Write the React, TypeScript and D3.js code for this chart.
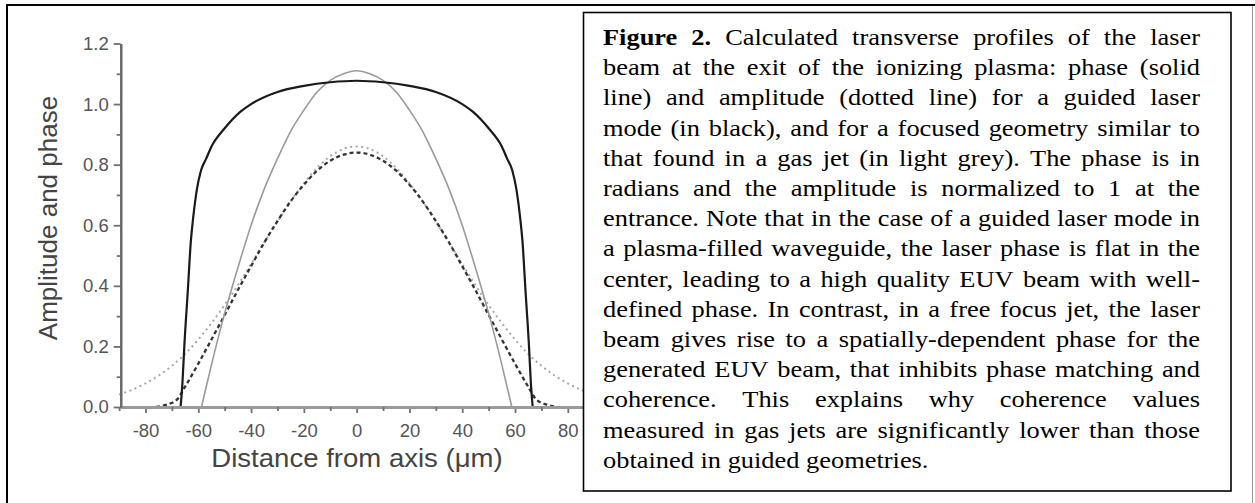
import * as React from "react";
import * as d3 from "d3";

// tick values
const xTicks = [-80, -60, -40, -20, 0, 20, 40, 60, 80];
const xMinor = [-90, -70, -50, -30, -10, 10, 30, 50, 70, 90];
const yTicks = [0, 0.2, 0.4, 0.6, 0.8, 1.0, 1.2];
const yMinor = [0.1, 0.3, 0.5, 0.7, 0.9, 1.1];

// guided laser mode, phase (black solid)
const guidedPhaseX = [-66.7, -66, -65.3, -64, -62.8, -62, -60.5, -59, -57, -55, -50, -44, -40, -30, -20, -10, 0, 10, 20, 30, 40, 44, 50, 55, 57, 59, 60.5, 62, 62.8, 64, 65.3, 66, 66.7];
const guidedPhaseY = [0, 0.08, 0.2, 0.38, 0.55, 0.62, 0.72, 0.78, 0.82, 0.86, 0.92, 0.975, 1.0, 1.04, 1.06, 1.072, 1.077, 1.072, 1.06, 1.04, 1.0, 0.975, 0.92, 0.86, 0.82, 0.78, 0.72, 0.62, 0.55, 0.38, 0.2, 0.08, 0];

// gas jet, phase (light grey solid)
const jetPhaseX = [-58.8, -55, -50, -45, -40, -35, -30, -25, -20, -15, -10, -5, 0, 5, 10, 15, 20, 25, 30, 35, 40, 45, 50, 55, 58.8];
const jetPhaseY = [0, 0.14, 0.31, 0.46, 0.6, 0.72, 0.82, 0.91, 0.98, 1.04, 1.078, 1.1, 1.11, 1.1, 1.078, 1.04, 0.98, 0.91, 0.82, 0.72, 0.6, 0.46, 0.31, 0.14, 0];

// guided laser mode, amplitude (dark dashed)
const guidedAmpX = [-76, -72, -68, -65, -60, -55, -50, -45, -40, -35, -30, -25, -20, -15, -10, -5, 0, 5, 10, 15, 20, 25, 30, 35, 40, 45, 50, 55, 60, 65, 68, 72, 76];
const guidedAmpY = [0, 0.008, 0.025, 0.067, 0.143, 0.223, 0.304, 0.386, 0.465, 0.543, 0.614, 0.679, 0.734, 0.78, 0.813, 0.833, 0.84, 0.833, 0.813, 0.78, 0.734, 0.679, 0.614, 0.543, 0.465, 0.386, 0.304, 0.223, 0.143, 0.067, 0.025, 0.008, 0];

// gas jet, amplitude (light grey dotted)
const jetAmpX = [-90, -85, -80, -75, -70, -65, -60, -55, -50, -45, -40, -35, -30, -25, -20, -15, -10, -5, 0, 5, 10, 15, 20, 25, 30, 35, 40, 45, 50, 55, 60, 65, 70, 75, 80, 85, 90];
const jetAmpY = [0.041, 0.057, 0.078, 0.104, 0.136, 0.175, 0.223, 0.277, 0.337, 0.402, 0.472, 0.543, 0.612, 0.679, 0.738, 0.789, 0.828, 0.852, 0.86, 0.852, 0.828, 0.789, 0.738, 0.679, 0.612, 0.543, 0.472, 0.402, 0.337, 0.277, 0.223, 0.175, 0.136, 0.104, 0.078, 0.057, 0.041];

const captionLines = [
  "Figure 2. Calculated transverse profiles of the laser",
  "beam at the exit of the ionizing plasma: phase (solid",
  "line) and amplitude (dotted line) for a guided laser",
  "mode (in black), and for a focused geometry similar to",
  "that found in a gas jet (in light grey). The phase is in",
  "radians and the amplitude is normalized to 1 at the",
  "entrance. Note that in the case of a guided laser mode in",
  "a plasma-filled waveguide, the laser phase is flat in the",
  "center, leading to a high quality EUV beam with well-",
  "defined phase. In contrast, in a free focus jet, the laser",
  "beam gives rise to a spatially-dependent phase for the",
  "generated EUV beam, that inhibits phase matching and",
  "coherence. This explains why coherence values",
  "measured in gas jets are significantly lower than those",
  "obtained in guided geometries.",
];

export default function App() {
  const ref = React.useRef<SVGSVGElement>(null);

  const draw = () => {
    const svg = d3.select(ref.current);
    svg.selectAll("*").remove();

    const sans = "Liberation Sans";
    const serif = "Liberation Serif";
    const labelColor = "#555";

    svg.append("rect").attr("width", 1255).attr("height", 503).attr("fill", "#fff");

    // outer frame
    svg.append("line").attr("x1", 6).attr("x2", 1255).attr("y1", 5).attr("y2", 5)
      .attr("stroke", "#000").attr("stroke-width", 2);
    svg.append("line").attr("x1", 7).attr("x2", 7).attr("y1", 4).attr("y2", 503)
      .attr("stroke", "#000").attr("stroke-width", 2);
    svg.append("line").attr("x1", 1252.5).attr("x2", 1252.5).attr("y1", 6).attr("y2", 503)
      .attr("stroke", "#999").attr("stroke-width", 1);

    const x = d3.scaleLinear().domain([-89.4, 90]).range([120.7, 594.2]);
    const y = d3.scaleLinear().domain([0, 1.2]).range([407, 43.5]);

    const plot = svg.append("g");

    const line = (xs: number[]) =>
      d3.line<number>()
        .x((_, i) => x(xs[i]))
        .y((d) => y(d))
        .curve(d3.curveMonotoneX);

    plot.append("path").attr("d", line(jetAmpX)(jetAmpY))
      .attr("fill", "none").attr("stroke", "#a8a8a8").attr("stroke-width", 2)
      .attr("stroke-dasharray", "2,3.5");
    plot.append("path").attr("d", line(guidedAmpX)(guidedAmpY))
      .attr("fill", "none").attr("stroke", "#333").attr("stroke-width", 2.3)
      .attr("stroke-dasharray", "4,3");
    plot.append("path").attr("d", line(jetPhaseX)(jetPhaseY))
      .attr("fill", "none").attr("stroke", "#9a9a9a").attr("stroke-width", 1.6);
    plot.append("path").attr("d", line(guidedPhaseX)(guidedPhaseY))
      .attr("fill", "none").attr("stroke", "#1a1a1a").attr("stroke-width", 2.2);

    // axes
    const xAxis = plot.append("g").attr("transform", "translate(0," + y(0) + ")");
    xAxis.call(d3.axisBottom(x).tickValues(xTicks).tickSize(6).tickSizeOuter(0).tickPadding(11)
      .tickFormat((d) => String(d)));
    xAxis.append("g").call(d3.axisBottom(x).tickValues(xMinor).tickSize(4).tickSizeOuter(0)
      .tickFormat(() => ""));
    xAxis.selectAll(".domain").attr("stroke", "#9a9a9a").attr("stroke-width", 3);

    const yAxis = plot.append("g").attr("transform", "translate(" + x(-89.4) + ",0)");
    yAxis.call(d3.axisLeft(y).tickValues(yTicks).tickSize(7).tickSizeOuter(0).tickPadding(5)
      .tickFormat(d3.format(".1f")));
    yAxis.append("g").call(d3.axisLeft(y).tickValues(yMinor).tickSize(4).tickSizeOuter(0)
      .tickFormat(() => ""));
    yAxis.selectAll(".domain").attr("stroke", "#6a6a6a").attr("stroke-width", 2.2);

    plot.selectAll(".tick line").attr("stroke", "#707070").attr("stroke-width", 1.8);
    plot.selectAll(".tick text").attr("fill", labelColor)
      .attr("font-family", sans).attr("font-size", "18.5px");

    plot.append("text")
      .attr("transform", "translate(357,466.7) scale(1.06,1)")
      .attr("text-anchor", "middle")
      .attr("font-family", sans).attr("font-size", "26px").attr("fill", "#444")
      .text("Distance from axis (\u03bcm)");

    plot.append("text")
      .attr("transform", "translate(57,218) rotate(-90)")
      .attr("text-anchor", "middle")
      .attr("font-family", sans).attr("font-size", "26px").attr("fill", "#444")
      .text("Amplitude and phase");

    // caption box
    svg.append("rect").attr("x", 583.5).attr("y", 12.5).attr("width", 647.5).attr("height", 478.5)
      .attr("fill", "#fff").attr("stroke", "#000").attr("stroke-width", 1.6);

    const fontSize = 24;
    const sx = 1.1;
    const left = 603;
    const right = 1200;
    const ctx = document.createElement("canvas").getContext("2d")!;
    const measure = (w: string, bold: boolean) => {
      ctx.font = (bold ? "bold " : "") + fontSize + "px " + serif;
      return ctx.measureText(w).width * sx;
    };
    ctx.font = fontSize + "px " + serif;
    const spaceW = ctx.measureText(" ").width * sx;

    const caption = svg.append("g").attr("font-family", serif).attr("font-size", fontSize + "px")
      .attr("fill", "#000");

    captionLines.forEach((ln, li) => {
      const words = ln.split(" ");
      const bolds = words.map((_, wi) => li === 0 && wi < 2);
      const widths = words.map((w, wi) => measure(w, bolds[wi]));
      const total = d3.sum(widths);
      const last = li === captionLines.length - 1;
      const gap = last || words.length < 2 ? spaceW : (right - left - total) / (words.length - 1);
      const by = 45 + li * 30.2;
      let cx = left;
      words.forEach((w, wi) => {
        caption.append("text")
          .attr("transform", "translate(" + cx + "," + by + ") scale(" + sx + ",1)")
          .attr("font-weight", bolds[wi] ? "bold" : "normal")
          .text(w);
        cx += widths[wi] + gap;
      });
    });
  };

  React.useEffect(() => {
    draw();
    // eslint-disable-next-line react-hooks/exhaustive-deps
  }, []);

  return (
    <svg
      ref={ref}
      width={1255}
      height={503}
      style={{ position: "absolute", left: 0, top: 0 }}
    />
  );
}
